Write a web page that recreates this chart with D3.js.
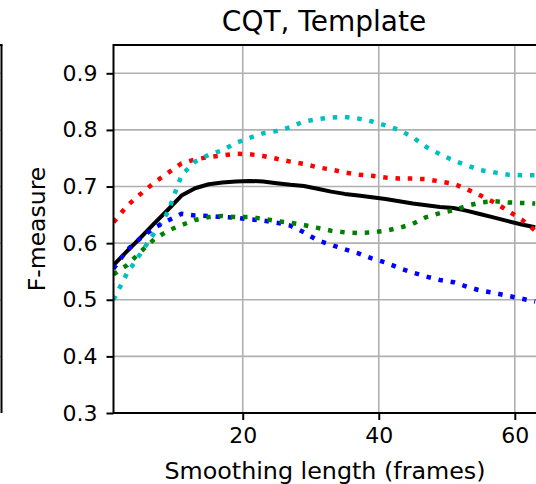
<!DOCTYPE html>
<html>
<head>
<meta charset="utf-8">
<script src="https://cdn.jsdelivr.net/npm/d3@7"></script>
<style>
  html, body { margin: 0; padding: 0; background: #fff; }
  svg { display: block; font-family: "DejaVu Sans", sans-serif; }
</style>
</head>
<body>
<svg width="536" height="484"></svg>
<script>
// smoothing length in frames
var frames = [1, 3, 5, 7, 9, 11, 13, 15, 17, 19, 21, 23, 25, 27, 29, 31,
  33, 35, 37, 39, 41, 43, 45, 47, 49, 51, 53, 55, 57, 59, 61, 63];

var blackVals = [0.561, 0.586, 0.610, 0.635, 0.659, 0.684, 0.697, 0.704, 0.707, 0.709, 0.710, 0.709,
  0.706, 0.703, 0.701, 0.696, 0.691, 0.687, 0.684, 0.681, 0.678, 0.674, 0.670, 0.667,
  0.664, 0.662, 0.657, 0.651, 0.645, 0.639, 0.633, 0.628];
var redVals = [0.637, 0.666, 0.687, 0.707, 0.724, 0.741, 0.748, 0.752, 0.755, 0.758, 0.757, 0.754,
  0.749, 0.744, 0.740, 0.734, 0.730, 0.725, 0.721, 0.719, 0.716, 0.714, 0.714, 0.713,
  0.709, 0.705, 0.695, 0.684, 0.672, 0.657, 0.642, 0.622];
var cyanVals = [0.500, 0.547, 0.582, 0.618, 0.655, 0.720, 0.744, 0.756, 0.764, 0.777, 0.786, 0.794,
  0.798, 0.805, 0.815, 0.819, 0.822, 0.823, 0.820, 0.815, 0.808, 0.800, 0.787, 0.770,
  0.757, 0.746, 0.737, 0.729, 0.725, 0.721, 0.720, 0.720];
var blueVals = [0.555, 0.588, 0.609, 0.627, 0.640, 0.652, 0.649, 0.648, 0.646, 0.645, 0.642, 0.640,
  0.636, 0.631, 0.619, 0.605, 0.597, 0.589, 0.582, 0.573, 0.566, 0.556, 0.548, 0.541,
  0.535, 0.531, 0.523, 0.516, 0.512, 0.507, 0.502, 0.497];
var greenVals = [0.545, 0.561, 0.585, 0.607, 0.622, 0.632, 0.641, 0.646, 0.648, 0.646, 0.646, 0.643,
  0.639, 0.636, 0.632, 0.627, 0.622, 0.619, 0.618, 0.619, 0.622, 0.627, 0.634, 0.646,
  0.653, 0.658, 0.666, 0.672, 0.674, 0.672, 0.671, 0.670];

var xTicks = [20, 40, 60];
var yTicks = [0.3, 0.4, 0.5, 0.6, 0.7, 0.8, 0.9];

var svg = d3.select("svg"),
  pLeft = 113.5, pRight = 542, pTop = 45, pBottom = 413;

var x = d3.scaleLinear().domain([1, 64]).range([pLeft, pRight]);
var y = d3.scaleLinear().domain([0.3, 0.95]).range([pBottom, pTop]);

// edge of the neighbouring subplot on the left
svg.append("g").selectAll("line").data(yTicks.slice(1))
  .enter().append("line")
  .attr("x1", -5).attr("x2", 1.5)
  .attr("y1", function (d) { return y(d); }).attr("y2", function (d) { return y(d); })
  .attr("stroke", "#b0b0b0").attr("stroke-width", 1.5);
svg.append("line").attr("x1", 1.5).attr("x2", 1.5).attr("y1", pTop).attr("y2", pBottom)
  .attr("stroke", "#000").attr("stroke-width", 2);
svg.append("line").attr("x1", -5).attr("x2", 2.5).attr("y1", pTop).attr("y2", pTop)
  .attr("stroke", "#000").attr("stroke-width", 2);

// grid
var grid = svg.append("g");
grid.selectAll(".gx").data(xTicks).enter().append("line")
  .attr("x1", function (d) { return x(d); }).attr("x2", function (d) { return x(d); })
  .attr("y1", pTop).attr("y2", pBottom)
  .attr("stroke", "#b0b0b0").attr("stroke-width", 1.6);
grid.selectAll(".gy").data(yTicks).enter().append("line")
  .attr("x1", pLeft).attr("x2", pRight)
  .attr("y1", function (d) { return y(d); }).attr("y2", function (d) { return y(d); })
  .attr("stroke", "#b0b0b0").attr("stroke-width", 1.6);

// lines
var series = [
  { vals: blackVals, color: "#000000", dotted: false },
  { vals: redVals, color: "#ff0000", dotted: true },
  { vals: cyanVals, color: "#00bfbf", dotted: true },
  { vals: blueVals, color: "#0000ff", dotted: true },
  { vals: greenVals, color: "#008000", dotted: true }
];

var line = d3.line()
  .x(function (d) { return x(d[0]); })
  .y(function (d) { return y(d[1]); });

svg.append("defs").append("clipPath").attr("id", "clip")
  .append("rect").attr("x", pLeft).attr("y", pTop)
  .attr("width", pRight - pLeft).attr("height", pBottom - pTop);

var plot = svg.append("g").attr("clip-path", "url(#clip)");
series.forEach(function (s) {
  plot.append("path")
    .datum(d3.zip(frames, s.vals))
    .attr("fill", "none")
    .attr("stroke", s.color)
    .attr("stroke-width", s.dotted ? 4.5 : 4)
    .attr("stroke-dasharray", s.dotted ? "4.5,7.8" : null)
    .attr("stroke-linejoin", "round")
    .attr("d", line);
});

// axes
var xAxis = svg.append("g").attr("transform", "translate(0," + pBottom + ")")
  .call(d3.axisBottom(x).tickValues(xTicks).tickSize(7).tickPadding(7).tickFormat(d3.format("d")));
var yAxis = svg.append("g").attr("transform", "translate(" + pLeft + ",0)")
  .call(d3.axisLeft(y).tickValues(yTicks).tickSize(7).tickPadding(9).tickFormat(d3.format(".1f")));

[xAxis, yAxis].forEach(function (a) {
  a.select(".domain").remove();
  a.selectAll(".tick line").attr("stroke", "#000").attr("stroke-width", 2);
  a.selectAll(".tick text").attr("fill", "#000").style("font-size", "22px")
    .style("font-family", "DejaVu Sans");
});

// spines
svg.append("rect").attr("x", pLeft).attr("y", pTop)
  .attr("width", pRight - pLeft).attr("height", pBottom - pTop)
  .attr("fill", "none").attr("stroke", "#000").attr("stroke-width", 2);

// texts
svg.append("text").attr("x", 324).attr("y", 31)
  .attr("text-anchor", "middle").style("font-size", "28px")
  .text("CQT, Template");

svg.append("text").attr("x", 325).attr("y", 479)
  .attr("text-anchor", "middle").style("font-size", "23.8px")
  .text("Smoothing length (frames)");

svg.append("text")
  .attr("transform", "translate(45," + (pTop + pBottom) / 2 + ") rotate(-90)")
  .attr("text-anchor", "middle").style("font-size", "23.5px")
  .text("F-measure");
</script>
</body>
</html>
